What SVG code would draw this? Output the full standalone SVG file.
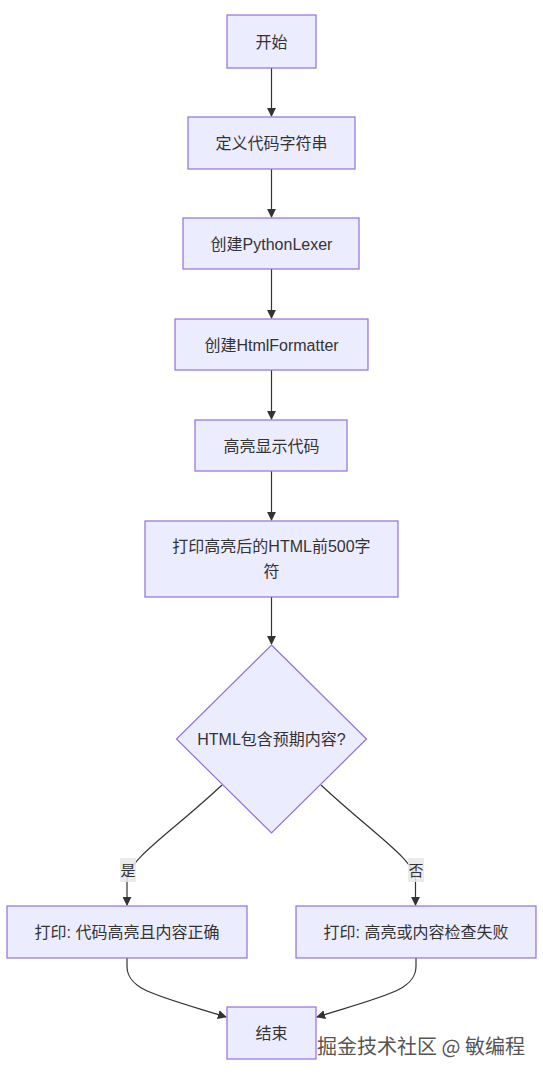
<svg xmlns="http://www.w3.org/2000/svg" width="543" height="1075" viewBox="0 0 543 1075">
<style>
.node rect,.node polygon{fill:#ECECFF;stroke:#9370DB;stroke-width:1.2}
.node text{font-family:"Liberation Sans","Noto Sans CJK SC",sans-serif;font-size:16px;fill:#333;text-anchor:middle;dominant-baseline:central}
.edge{fill:none;stroke:#333;stroke-width:1.2}
.lbl rect{fill:#e8e8e8;opacity:0.85}
.lbl text{font-family:"Liberation Sans","Noto Sans CJK SC",sans-serif;font-size:15px;fill:#333;text-anchor:middle;dominant-baseline:central}
</style>
<defs>
<marker id="arr" viewBox="0 0 10 10" refX="9" refY="5" markerWidth="9" markerHeight="9" markerUnits="userSpaceOnUse" orient="auto">
<path d="M0,0 L10,5 L0,10 z" fill="#333"/>
</marker>
</defs>
<rect width="543" height="1075" fill="#fff"/>
<g id="edges">
<path class="edge" d="M271.5,68 L271.5,116" marker-end="url(#arr)"/>
<path class="edge" d="M271.5,169 L271.5,217" marker-end="url(#arr)"/>
<path class="edge" d="M271.5,269 L271.5,318" marker-end="url(#arr)"/>
<path class="edge" d="M271.5,370 L271.5,419" marker-end="url(#arr)"/>
<path class="edge" d="M271.5,471 L271.5,520" marker-end="url(#arr)"/>
<path class="edge" d="M271.5,597 L271.5,644" marker-end="url(#arr)"/>
<path class="edge" d="M222,785 C172,832 127,860 127,880 L127,905" marker-end="url(#arr)"/>
<path class="edge" d="M321,785 C371,832 415.5,860 415.5,880 L415.5,905" marker-end="url(#arr)"/>
<path class="edge" d="M127,958 L127,966 C127,990 155,995 226,1017" marker-end="url(#arr)"/>
<path class="edge" d="M416,958 L416,966 C416,990 388,995 317,1017" marker-end="url(#arr)"/>
</g>
<g class="lbl" id="label-yes"><rect x="120" y="858" width="16" height="24"/><text x="128" y="870">是</text></g>
<g class="lbl" id="label-no"><rect x="408" y="858" width="16" height="24"/><text x="416" y="870">否</text></g>
<g class="node" id="start"><rect x="227" y="15" width="89" height="53"/><text x="271.5" y="42">开始</text></g>
<g class="node" id="define"><rect x="188" y="117" width="167" height="52"/><text x="271.5" y="143">定义代码字符串</text></g>
<g class="node" id="lexer"><rect x="183" y="218" width="176" height="51"/><text x="271.5" y="244">创建PythonLexer</text></g>
<g class="node" id="formatter"><rect x="175" y="319" width="193" height="51"/><text x="271.5" y="345">创建HtmlFormatter</text></g>
<g class="node" id="highlight"><rect x="195" y="420" width="152" height="51"/><text x="271.5" y="446">高亮显示代码</text></g>
<g class="node" id="print"><rect x="145" y="521" width="253" height="76"/><text x="271.5" y="546">打印高亮后的HTML前500字</text><text x="271.5" y="571">符</text></g>
<g class="node" id="check"><polygon points="271.5,645 366.5,739 271.5,833 176.5,739"/><text x="271.5" y="739">HTML包含预期内容?</text></g>
<g class="node" id="ok"><rect x="7" y="906" width="240" height="52"/><text x="127" y="932">打印: 代码高亮且内容正确</text></g>
<g class="node" id="fail"><rect x="296" y="906" width="240" height="52"/><text x="416" y="932">打印: 高亮或内容检查失败</text></g>
<g class="node" id="end"><rect x="227" y="1007" width="89" height="52"/><text x="271.5" y="1033">结束</text></g>
<text x="421" y="1045" font-family="'Noto Sans CJK SC',sans-serif" font-size="20" fill="#555" text-anchor="middle" dominant-baseline="central" stroke="#fff" stroke-width="0.6" paint-order="stroke">掘金技术社区 @ 敏编程</text>
</svg>
